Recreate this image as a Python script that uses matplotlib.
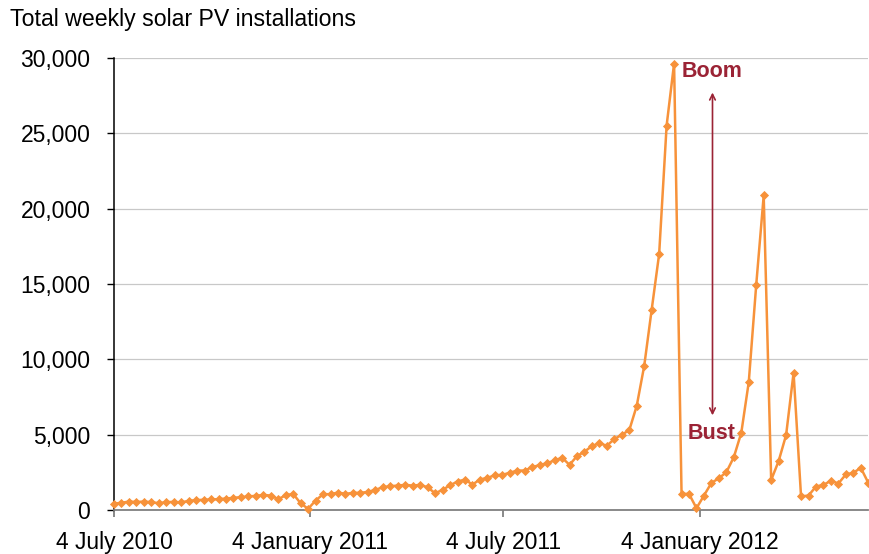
import numpy as np
import pandas as pd
import matplotlib
matplotlib.use("Agg")
import matplotlib.pyplot as plt
from matplotlib.ticker import FuncFormatter

plt.rcParams['font.family'] = ['Liberation Sans', 'DejaVu Sans']

weeks = pd.date_range('2010-07-04', periods=102, freq='7D')
installs = [420, 480, 560, 530, 560, 520, 450, 520, 540, 500,
            610, 650, 680, 700, 720, 760, 810, 850, 900, 940,
            1000, 960, 720, 980, 1070, 440, 80, 630, 1050, 1050,
            1160, 1070, 1140, 1140, 1200, 1340, 1510, 1580, 1620, 1670,
            1620, 1670, 1510, 1110, 1340, 1640, 1890, 2020, 1690, 2020,
            2140, 2300, 2340, 2470, 2620, 2620, 2850, 2980, 3110, 3290,
            3470, 3000, 3580, 3870, 4250, 4430, 4270, 4710, 5000, 5300,
            6920, 9570, 13300, 17000, 25520, 29640, 1070, 1070, 120, 960,
            1800, 2110, 2510, 3510, 5130, 8500, 14960, 20880, 1990, 3250,
            4980, 9110, 900, 960, 1560, 1670, 1940, 1760, 2360, 2470,
            2800, 1810]
tick_dates = pd.to_datetime(['2010-07-04', '2011-01-04', '2011-07-04', '2012-01-04'])
tick_labels = ['4 July 2010', '4 January 2011', '4 July 2011', '4 January 2012']

orange = '#F7923A'
dark_red = '#9B2335'

fig = plt.figure(figsize=(8.7, 5.54), dpi=100)
ax = fig.add_axes([0.131, 0.0794, 0.867, 0.8157])

ax.plot(weeks, installs, color=orange, lw=1.8, marker='D', ms=4,
        mec=orange, mew=0.6, clip_on=False, zorder=3)

ax.set_ylim(0, 30000)
ax.set_xlim(weeks[0], weeks[-1])
ax.set_yticks(np.arange(0, 30001, 5000))
ax.yaxis.set_major_formatter(FuncFormatter(lambda v, p: f'{int(v):,}'))
ax.set_xticks(tick_dates)
ax.set_xticklabels(tick_labels)

ax.grid(axis='y', color='#C8C8C8', lw=0.9)
ax.set_axisbelow(True)
for s in ['top', 'right']:
    ax.spines[s].set_visible(False)
ax.spines['left'].set_color('black')
ax.spines['left'].set_linewidth(1.1)
ax.spines['bottom'].set_color('#808080')
ax.spines['bottom'].set_linewidth(1.3)
ax.tick_params(axis='y', length=5, width=1, color='black', labelsize=16.5, pad=12)
ax.tick_params(axis='x', length=5, width=1.3, color='#808080', labelsize=16.5, pad=10)

fig.text(0.011, 0.953, 'Total weekly solar PV installations', fontsize=16.7,
         va='baseline', ha='left')

# boom / bust marker
ax.annotate('', xy=(pd.Timestamp('2012-01-16'), 27900),
            xytext=(pd.Timestamp('2012-01-16'), 6100),
            arrowprops=dict(arrowstyle='<->', color=dark_red, lw=1.2))
ax.text(pd.Timestamp('2011-12-18'), 29100, 'Boom', color=dark_red,
        fontsize=15.5, fontweight='bold', ha='left', va='center')
ax.text(pd.Timestamp('2012-01-15'), 5085, 'Bust', color=dark_red,
        fontsize=15.5, fontweight='bold', ha='center', va='center')

plt.savefig('out.png', dpi=100)
